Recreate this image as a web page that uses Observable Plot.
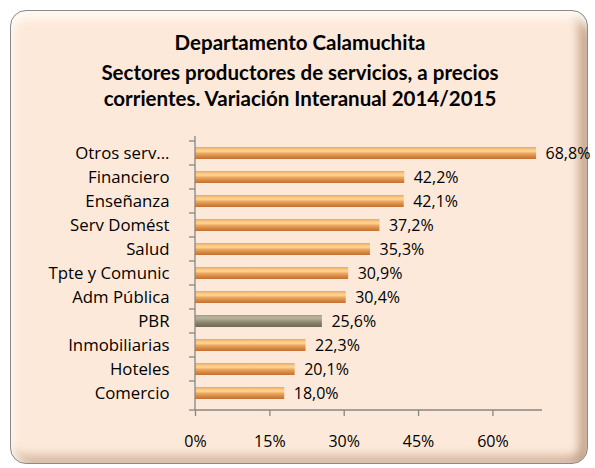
<!DOCTYPE html>
<html>
<head>
<meta charset="utf-8">
<script src="https://cdn.jsdelivr.net/npm/d3@7"></script>
<script src="https://cdn.jsdelivr.net/npm/@observablehq/plot@0.6"></script>
<style>
  body { margin: 0; background: #ffffff; }
  #wrap { position: relative; width: 595px; height: 468px; overflow: hidden; font-family: Lato, "Open Sans", sans-serif; }
  #box {
    position: absolute; left: 10px; top: 10px; width: 578px; height: 454px;
    box-sizing: border-box; border: 1.5px solid #8a8a8a; border-radius: 16px;
    background: #fde9d9;
    box-shadow: inset 0 12px 10px -4px #fffaf3, inset 8px 0 8px -4px #fff6ec,
                inset -12px 0 10px -4px #c4a58c, inset 0 -12px 10px -4px #d6bba4;
  }
  .t { position: absolute; left: 0; width: 600px; text-align: center; font-weight: bold; font-size: 20.5px; color: #000; }
  #chart { position: absolute; left: 0; top: 120px; }
  #chart svg text { font-size: 16px; }
  #chart svg g[aria-label="y-axis tick label"] text { font-size: 16.8px; }
</style>
</head>
<body>
<div id="wrap">
  <div id="box"></div>
  <div class="t" style="top:30px">Departamento Calamuchita</div>
  <div class="t" style="top:60px">Sectores productores de servicios, a precios</div>
  <div class="t" style="top:86px">corrientes. Variación Interanual 2014/2015</div>
  <div id="chart"></div>
</div>
<script>
const categories = ["Otros serv...", "Financiero", "Enseñanza", "Serv Domést", "Salud", "Tpte y Comunic", "Adm Pública", "PBR", "Inmobiliarias", "Hoteles", "Comercio"];
const values = [68.8, 42.2, 42.1, 37.2, 35.3, 30.9, 30.4, 25.6, 22.3, 20.1, 18.0];
const highlight = ["PBR"];
const xTicks = [0, 15, 30, 45, 60];

const data = categories.map((c, i) => ({cat: c, v: values[i], hl: highlight.includes(c)}));
const fmt = v => v.toFixed(1).replace(".", ",") + "%";

function decor(index, scales, values, dims) {
  const g = d3.create("svg:g");
  const defs = g.append("defs");
  const mk = (id, stops) => {
    const lg = defs.append("linearGradient").attr("id", id).attr("x1", 0).attr("y1", 0).attr("x2", 0).attr("y2", 1);
    stops.forEach(([o, c]) => lg.append("stop").attr("offset", o).attr("stop-color", c));
  };
  mk("gOrange", [[0, "#eea463"], [0.18, "#f9c57f"], [0.35, "#fbd690"], [0.55, "#eea45d"], [0.8, "#d9843f"], [1, "#c27136"]]);
  mk("gGrey", [[0, "#9f9a82"], [0.2, "#b9b49d"], [0.4, "#a9a48c"], [0.65, "#86826b"], [1, "#6d6a56"]]);
  const f = defs.append("filter").attr("id", "sh").attr("x", "-5%").attr("y", "-40%").attr("width", "110%").attr("height", "200%");
  f.append("feDropShadow").attr("dx", 1.5).attr("dy", 2).attr("stdDeviation", 1.2).attr("flood-color", "#8a6a50").attr("flood-opacity", 0.45);
  const y = scales.y, x = scales.x;
  const x0 = x(0), yTop = dims.marginTop, yBot = dims.height - dims.marginBottom;
  const step = y.step();
  g.append("line").attr("x1", x0).attr("x2", x0).attr("y1", yTop).attr("y2", yBot).attr("stroke", "#868686").attr("stroke-width", 1.3);
  const doms = y.domain();
  const bounds = doms.map(d => y(d) - (step - y.bandwidth()) / 2).concat([yBot]);
  bounds.forEach(b => g.append("line").attr("x1", x0 - 6).attr("x2", x0).attr("y1", b).attr("y2", b).attr("stroke", "#868686").attr("stroke-width", 1.3));
  g.append("line").attr("x1", x0).attr("x2", dims.width - dims.marginRight).attr("y1", yBot).attr("y2", yBot).attr("stroke", "#868686").attr("stroke-width", 1.3);
  return g.node();
}

const chart = Plot.plot({
  width: 595,
  height: 340,
  marginLeft: 195,
  marginRight: 53,
  marginTop: 16,
  marginBottom: 50,
  style: {background: "transparent", fontFamily: "'Open Sans', Lato, sans-serif", fontSize: "16px", color: "#000", overflow: "visible"},
  x: {domain: [0, 70], ticks: xTicks, tickFormat: d => d + "%", label: null},
  y: {domain: categories, paddingInner: 0.5, paddingOuter: 0.25, label: null},
  marks: [
    Plot.barX(data, {y: "cat", x: "v", fill: d => d.hl ? "url(#gGrey)" : "url(#gOrange)", style: "filter:url(#sh)"}),
    Plot.text(data, {y: "cat", x: "v", text: d => fmt(d.v), textAnchor: "start", dx: 9, fill: "#000"}),
    decor,
    Plot.axisY({tickSize: 0, tickPadding: 26}),
    Plot.axisX({ticks: xTicks, tickSize: 6, tickPadding: 19, stroke: "#868686", strokeWidth: 1.3, tickFormat: d => d + "%"})
  ]
});
document.getElementById("chart").appendChild(chart);
</script>
</body>
</html>
